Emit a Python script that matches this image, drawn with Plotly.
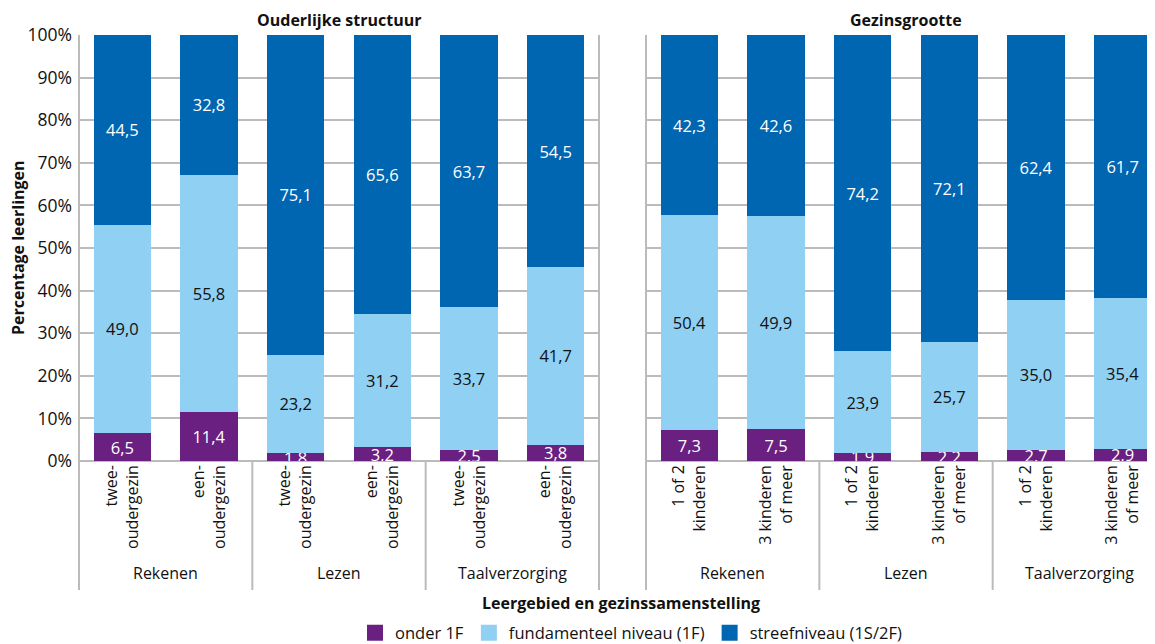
import plotly.graph_objects as go

# ---------------- data ----------------
groups = ["Rekenen", "Lezen", "Taalverzorging"]
left_labels = ["twee-<br>oudergezin", "een-<br>oudergezin"] * 3
right_labels = ["1 of 2<br>kinderen", "3 kinderen<br>of meer"] * 3

left_onder = [6.5, 11.4, 1.8, 3.2, 2.5, 3.8]
left_fund = [49.0, 55.8, 23.2, 31.2, 33.7, 41.7]
left_streef = [44.5, 32.8, 75.1, 65.6, 63.7, 54.5]

right_onder = [7.3, 7.5, 1.9, 2.2, 2.7, 2.9]
right_fund = [50.4, 49.9, 23.9, 25.7, 35.0, 35.4]
right_streef = [42.3, 42.6, 74.2, 72.1, 62.4, 61.7]

series_names = ["onder 1F", "fundamenteel niveau (1F)", "streefniveau (1S/2F)"]
panel_titles = ["Ouderlijke structuur", "Gezinsgrootte"]
y_ticks = [0, 10, 20, 30, 40, 50, 60, 70, 80, 90, 100]
y_ticktext = [f"{v}%" for v in y_ticks]

# ---------------- style ----------------
FONT = "Open Sans"
FS_NUM = 16.5
FS_Y = 17.5
FS = 16
colors = ["#6A2080", "#90D0F2", "#0066B1"]
text_colors = ["white", "#111111", "white"]
GRID = "#BBBBBB"
TXT = "#111111"

OFF = 8                      # default page body margin
WIN_W, WIN_H = 1155, 644
W, H = WIN_W - OFF, WIN_H - OFF
L, T, B_ = 79, 35, 461       # plot area edges in window pixels
plot_w = WIN_W - L
plot_h = B_ - T
cat_px = 86.67


def px_x(px):
    return (px - L) / plot_w


def px_y(py):
    return (B_ - py) / plot_h


def fmt(v):
    return f"{v:.1f}".replace(".", ",")


fig = go.Figure()
xs = list(range(6))
panels = [
    ("x", "y", [left_onder, left_fund, left_streef]),
    ("x2", "y2", [right_onder, right_fund, right_streef]),
]
for xa, ya, vals in panels:
    for i, v in enumerate(vals):
        fig.add_trace(go.Bar(
            x=xs, y=v, xaxis=xa, yaxis=ya,
            marker=dict(color=colors[i], line=dict(width=0)),
            width=0.66,
            text=[fmt(a) for a in v],
            textposition="inside",
            insidetextanchor="middle",
            textangle=0,
            textfont=dict(family=FONT, size=FS_NUM, color=text_colors[i]),
            name=series_names[i],
            showlegend=False,
            hoverinfo="skip",
        ))

# legend proxies
for i, n in enumerate(series_names):
    fig.add_trace(go.Scatter(
        x=[None], y=[None], mode="markers",
        marker=dict(symbol="square", size=16, color=colors[i]),
        name=n, showlegend=True, xaxis="x", yaxis="y",
    ))

left_dom = [0, px_x(599)]
right_dom = [px_x(646), 1]
right_range_end = -0.5 + (WIN_W - 646) / cat_px

axis_common = dict(
    tickmode="array", tickvals=xs, tickangle=-90,
    tickfont=dict(family=FONT, size=FS, color=TXT),
    showgrid=False, zeroline=False, showline=False, ticks="",
    fixedrange=True, automargin=False,
)
y_common = dict(
    range=[0, 100], tickmode="array", tickvals=y_ticks,
    showgrid=True, gridcolor=GRID, gridwidth=2,
    zeroline=True, zerolinecolor=GRID, zerolinewidth=2,
    showline=False, ticks="", automargin=False, fixedrange=True,
)
fig.update_layout(
    width=W, height=H,
    margin=dict(l=L - OFF, r=0, t=T - OFF, b=WIN_H - B_, pad=0,
                autoexpand=False),
    paper_bgcolor="white", plot_bgcolor="white",
    barmode="stack", bargap=0.34,
    font=dict(family=FONT, size=FS, color=TXT),
    uniformtext=dict(minsize=FS_NUM, mode="show"),
    xaxis=dict(domain=left_dom, range=[-0.5, 5.5], ticktext=left_labels,
               anchor="y", **axis_common),
    xaxis2=dict(domain=right_dom, range=[-0.5, right_range_end],
                ticktext=right_labels, anchor="y2", **axis_common),
    yaxis=dict(ticktext=y_ticktext, anchor="x", ticklabelstandoff=6,
               tickfont=dict(family=FONT, size=FS_Y, color=TXT), **y_common),
    yaxis2=dict(ticktext=y_ticktext, showticklabels=False, anchor="x2",
                **y_common),
    legend=dict(orientation="h", x=px_x(631), xanchor="center",
                y=px_y(633), yanchor="middle", traceorder="normal",
                font=dict(family=FONT, size=16.5, color=TXT),
                itemwidth=30, tracegroupgap=0, bgcolor="rgba(0,0,0,0)"),
    showlegend=True,
)

# frame and separators
line = dict(color=GRID, width=2)
y_bottom = px_y(590)
for xp in [px_x(L), px_x(599), px_x(646)]:
    fig.add_shape(type="line", xref="paper", yref="paper",
                  x0=xp, x1=xp, y0=y_bottom, y1=1, line=line, layer="above")
for xa in ["x", "x2"]:
    for s in [1.5, 3.5]:
        fig.add_shape(type="line", xref=xa, yref="paper",
                      x0=s, x1=s, y0=y_bottom, y1=0, line=line, layer="above")

# group labels
for xa in ["x", "x2"]:
    for gi, g in enumerate(groups):
        fig.add_annotation(text=g, xref=xa, yref="paper",
                           x=2 * gi + 0.5, y=px_y(573), showarrow=False,
                           xanchor="center", yanchor="middle",
                           font=dict(family=FONT, size=FS, color=TXT))

# panel titles
for xa, t in zip(["x", "x2"], panel_titles):
    fig.add_annotation(text=f"<b>{t}</b>", xref=xa, yref="paper",
                       x=2.5, y=px_y(20), showarrow=False,
                       xanchor="center", yanchor="middle",
                       font=dict(family=FONT, size=FS, color=TXT))

# axis titles
fig.add_annotation(text="<b>Leergebied en gezinssamenstelling</b>",
                   xref="paper", yref="paper", x=px_x(621), y=px_y(603),
                   showarrow=False, xanchor="center", yanchor="middle",
                   font=dict(family=FONT, size=FS, color=TXT))
fig.add_annotation(text="<b>Percentage leerlingen</b>",
                   xref="paper", yref="paper", x=px_x(18), y=px_y(248),
                   textangle=-90, showarrow=False,
                   xanchor="center", yanchor="middle",
                   font=dict(family=FONT, size=FS, color=TXT))

fig.write_html("out.html")
